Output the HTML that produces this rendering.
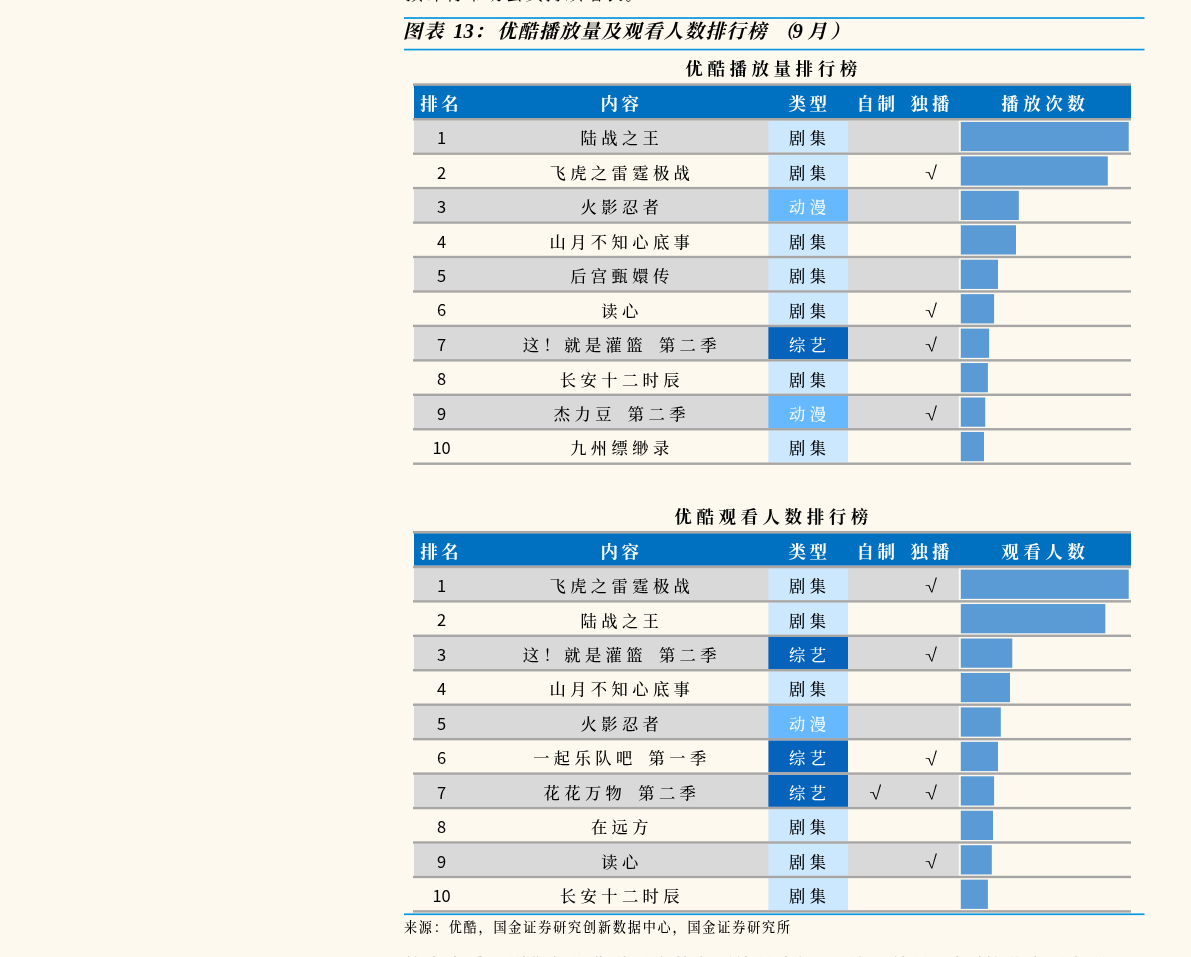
<!DOCTYPE html>
<html lang="zh-CN">
<head>
<meta charset="utf-8">
<title>图表 13：优酷播放量及观看人数排行榜（9 月）</title>
<style>
html,body{margin:0;padding:0;background:#FDF9EE;}
body{width:1191px;height:957px;overflow:hidden;position:relative;}
svg{position:absolute;left:0;top:0;display:block;will-change:transform;}

.k{font-family:"Liberation Serif","Noto Serif CJK SC",serif;}
.s{font-family:"Noto Sans CJK SC","Liberation Sans",sans-serif;}
.c{font-family:"Noto Serif CJK SC","DejaVu Sans",serif;}
</style>
</head>
<body>
<svg width="1191" height="957" viewBox="0 0 1191 957">
<rect x="0" y="0" width="1191" height="957" fill="#FDF9EE"/>
<text class="k" x="405.00" y="0.40" font-size="18" text-anchor="start" letter-spacing="2.0">预计将带动会员持续增长。</text>
<rect x="404.00" y="17.15" width="740.50" height="1.75" fill="#0A97E1"/>
<rect x="404.00" y="48.75" width="740.50" height="1.65" fill="#0A97E1"/>
<text class="k" y="38" font-size="19.4" font-weight="bold" font-style="italic" letter-spacing="1.45"><tspan x="402.8">图</tspan><tspan x="423.7">表</tspan> <tspan x="453.2" font-size="20.7" letter-spacing="0">13</tspan><tspan x="474">：</tspan><tspan x="497">优酷播放量及观看人数排行榜</tspan><tspan x="774.5">（</tspan><tspan x="792.6" font-size="20.7" letter-spacing="0">9</tspan> <tspan x="807.3">月</tspan><tspan x="830.3">）</tspan></text>
<text class="k" x="773.57" y="75.20" font-size="17.5" text-anchor="middle" font-weight="bold" letter-spacing="4.55">优酷播放量排行榜</text>
<rect x="413.00" y="83.30" width="718.00" height="2.70" fill="#ADA7A4"/>
<rect x="414.00" y="85.80" width="717.00" height="32.20" fill="#0070C0"/>
<text class="k" x="441.25" y="109.80" font-size="17.5" text-anchor="middle" font-weight="bold" letter-spacing="3.5" fill="#fff">排名</text>
<text class="k" x="621.55" y="109.80" font-size="17.5" text-anchor="middle" font-weight="bold" letter-spacing="3.5" fill="#fff">内容</text>
<text class="k" x="809.55" y="109.80" font-size="17.5" text-anchor="middle" font-weight="bold" letter-spacing="3.5" fill="#fff">类型</text>
<text class="k" x="877.45" y="109.80" font-size="17.5" text-anchor="middle" font-weight="bold" letter-spacing="3.5" fill="#fff">自制</text>
<text class="k" x="932.10" y="109.80" font-size="17.5" text-anchor="middle" font-weight="bold" letter-spacing="4.0" fill="#fff">独播</text>
<text class="k" x="1045.25" y="109.80" font-size="17.5" text-anchor="middle" font-weight="bold" letter-spacing="4.5" fill="#fff">播放次数</text>
<rect x="414.00" y="120.40" width="544.80" height="32.05" fill="#D9D9D9"/>
<rect x="768.40" y="120.40" width="79.60" height="32.05" fill="#CCE8FF"/>
<rect x="960.80" y="121.90" width="167.90" height="29.25" fill="#5B9BD5"/>
<rect x="768.40" y="154.85" width="79.60" height="32.05" fill="#CCE8FF"/>
<rect x="960.80" y="156.35" width="147.00" height="29.25" fill="#5B9BD5"/>
<rect x="414.00" y="189.30" width="544.80" height="32.05" fill="#D9D9D9"/>
<rect x="768.40" y="189.30" width="79.60" height="32.05" fill="#66B8FF"/>
<rect x="960.80" y="190.80" width="58.00" height="29.25" fill="#5B9BD5"/>
<rect x="768.40" y="223.75" width="79.60" height="32.05" fill="#CCE8FF"/>
<rect x="960.80" y="225.25" width="55.20" height="29.25" fill="#5B9BD5"/>
<rect x="414.00" y="258.20" width="544.80" height="32.05" fill="#D9D9D9"/>
<rect x="768.40" y="258.20" width="79.60" height="32.05" fill="#CCE8FF"/>
<rect x="960.80" y="259.70" width="37.20" height="29.25" fill="#5B9BD5"/>
<rect x="768.40" y="292.65" width="79.60" height="32.05" fill="#CCE8FF"/>
<rect x="960.80" y="294.15" width="33.30" height="29.25" fill="#5B9BD5"/>
<rect x="414.00" y="327.10" width="544.80" height="32.05" fill="#D9D9D9"/>
<rect x="768.40" y="327.10" width="79.60" height="32.05" fill="#0563BB"/>
<rect x="960.80" y="328.60" width="28.30" height="29.25" fill="#5B9BD5"/>
<rect x="768.40" y="361.55" width="79.60" height="32.05" fill="#CCE8FF"/>
<rect x="960.80" y="363.05" width="27.10" height="29.25" fill="#5B9BD5"/>
<rect x="414.00" y="396.00" width="544.80" height="32.05" fill="#D9D9D9"/>
<rect x="768.40" y="396.00" width="79.60" height="32.05" fill="#66B8FF"/>
<rect x="960.80" y="397.50" width="24.40" height="29.25" fill="#5B9BD5"/>
<rect x="768.40" y="430.45" width="79.60" height="32.05" fill="#CCE8FF"/>
<rect x="960.80" y="431.95" width="23.20" height="29.25" fill="#5B9BD5"/>
<rect x="413.00" y="118.00" width="718.00" height="2.55" fill="#ADA7A4"/>
<rect x="413.00" y="152.45" width="718.00" height="2.40" fill="#A6A6A6"/>
<rect x="413.00" y="186.90" width="718.00" height="2.40" fill="#A6A6A6"/>
<rect x="413.00" y="221.35" width="718.00" height="2.40" fill="#A6A6A6"/>
<rect x="413.00" y="255.80" width="718.00" height="2.40" fill="#A6A6A6"/>
<rect x="413.00" y="290.25" width="718.00" height="2.40" fill="#A6A6A6"/>
<rect x="413.00" y="324.70" width="718.00" height="2.40" fill="#A6A6A6"/>
<rect x="413.00" y="359.15" width="718.00" height="2.40" fill="#A6A6A6"/>
<rect x="413.00" y="393.60" width="718.00" height="2.40" fill="#A6A6A6"/>
<rect x="413.00" y="428.05" width="718.00" height="2.40" fill="#A6A6A6"/>
<rect x="413.00" y="462.50" width="718.00" height="2.40" fill="#A6A6A6"/>
<text class="s" x="441.60" y="144.20" font-size="16.5" text-anchor="middle">1</text>
<text class="k" x="621.90" y="144.40" font-size="16.3" text-anchor="middle" font-weight="500" letter-spacing="4.4" word-spacing="3.5">陆战之王</text>
<text class="k" x="809.70" y="144.40" font-size="16.3" text-anchor="middle" font-weight="500" letter-spacing="4.4">剧集</text>
<text class="s" x="441.60" y="178.65" font-size="16.5" text-anchor="middle">2</text>
<text class="k" x="621.90" y="178.85" font-size="16.3" text-anchor="middle" font-weight="500" letter-spacing="4.4" word-spacing="3.5">飞虎之雷霆极战</text>
<text class="k" x="809.70" y="178.85" font-size="16.3" text-anchor="middle" font-weight="500" letter-spacing="4.4">剧集</text>
<text class="c" transform="translate(931.40,177.05) scale(1.35,1)" font-size="14.2" font-weight="600" text-anchor="middle">√</text>
<text class="s" x="441.60" y="213.10" font-size="16.5" text-anchor="middle">3</text>
<text class="k" x="621.90" y="213.30" font-size="16.3" text-anchor="middle" font-weight="500" letter-spacing="4.4" word-spacing="3.5">火影忍者</text>
<text class="k" x="809.70" y="213.30" font-size="16.3" text-anchor="middle" font-weight="500" letter-spacing="4.4" fill="#fff">动漫</text>
<text class="s" x="441.60" y="247.55" font-size="16.5" text-anchor="middle">4</text>
<text class="k" x="621.90" y="247.75" font-size="16.3" text-anchor="middle" font-weight="500" letter-spacing="4.4" word-spacing="3.5">山月不知心底事</text>
<text class="k" x="809.70" y="247.75" font-size="16.3" text-anchor="middle" font-weight="500" letter-spacing="4.4">剧集</text>
<text class="s" x="441.60" y="282.00" font-size="16.5" text-anchor="middle">5</text>
<text class="k" x="621.90" y="282.20" font-size="16.3" text-anchor="middle" font-weight="500" letter-spacing="4.4" word-spacing="3.5">后宫甄嬛传</text>
<text class="k" x="809.70" y="282.20" font-size="16.3" text-anchor="middle" font-weight="500" letter-spacing="4.4">剧集</text>
<text class="s" x="441.60" y="316.45" font-size="16.5" text-anchor="middle">6</text>
<text class="k" x="621.90" y="316.65" font-size="16.3" text-anchor="middle" font-weight="500" letter-spacing="4.4" word-spacing="3.5">读心</text>
<text class="k" x="809.70" y="316.65" font-size="16.3" text-anchor="middle" font-weight="500" letter-spacing="4.4">剧集</text>
<text class="c" transform="translate(931.40,314.85) scale(1.35,1)" font-size="14.2" font-weight="600" text-anchor="middle">√</text>
<text class="s" x="441.60" y="350.90" font-size="16.5" text-anchor="middle">7</text>
<text class="k" x="621.90" y="351.10" font-size="16.3" text-anchor="middle" font-weight="500" letter-spacing="4.4" word-spacing="3.5">这！就是灌篮 第二季</text>
<text class="k" x="809.70" y="351.10" font-size="16.3" text-anchor="middle" font-weight="500" letter-spacing="4.4" fill="#fff">综艺</text>
<text class="c" transform="translate(931.40,349.30) scale(1.35,1)" font-size="14.2" font-weight="600" text-anchor="middle">√</text>
<text class="s" x="441.60" y="385.35" font-size="16.5" text-anchor="middle">8</text>
<text class="k" x="621.90" y="385.55" font-size="16.3" text-anchor="middle" font-weight="500" letter-spacing="4.4" word-spacing="3.5">长安十二时辰</text>
<text class="k" x="809.70" y="385.55" font-size="16.3" text-anchor="middle" font-weight="500" letter-spacing="4.4">剧集</text>
<text class="s" x="441.60" y="419.80" font-size="16.5" text-anchor="middle">9</text>
<text class="k" x="621.90" y="420.00" font-size="16.3" text-anchor="middle" font-weight="500" letter-spacing="4.4" word-spacing="3.5">杰力豆 第二季</text>
<text class="k" x="809.70" y="420.00" font-size="16.3" text-anchor="middle" font-weight="500" letter-spacing="4.4" fill="#fff">动漫</text>
<text class="c" transform="translate(931.40,418.20) scale(1.35,1)" font-size="14.2" font-weight="600" text-anchor="middle">√</text>
<text class="s" x="441.60" y="454.25" font-size="16.5" text-anchor="middle">10</text>
<text class="k" x="621.90" y="454.45" font-size="16.3" text-anchor="middle" font-weight="500" letter-spacing="4.4" word-spacing="3.5">九州缥缈录</text>
<text class="k" x="809.70" y="454.45" font-size="16.3" text-anchor="middle" font-weight="500" letter-spacing="4.4">剧集</text>
<text class="k" x="773.57" y="522.90" font-size="17.5" text-anchor="middle" font-weight="bold" letter-spacing="4.55">优酷观看人数排行榜</text>
<rect x="413.00" y="531.00" width="718.00" height="2.70" fill="#ADA7A4"/>
<rect x="414.00" y="533.50" width="717.00" height="32.20" fill="#0070C0"/>
<text class="k" x="441.25" y="557.50" font-size="17.5" text-anchor="middle" font-weight="bold" letter-spacing="3.5" fill="#fff">排名</text>
<text class="k" x="621.55" y="557.50" font-size="17.5" text-anchor="middle" font-weight="bold" letter-spacing="3.5" fill="#fff">内容</text>
<text class="k" x="809.55" y="557.50" font-size="17.5" text-anchor="middle" font-weight="bold" letter-spacing="3.5" fill="#fff">类型</text>
<text class="k" x="877.45" y="557.50" font-size="17.5" text-anchor="middle" font-weight="bold" letter-spacing="3.5" fill="#fff">自制</text>
<text class="k" x="932.10" y="557.50" font-size="17.5" text-anchor="middle" font-weight="bold" letter-spacing="4.0" fill="#fff">独播</text>
<text class="k" x="1045.25" y="557.50" font-size="17.5" text-anchor="middle" font-weight="bold" letter-spacing="4.5" fill="#fff">观看人数</text>
<rect x="414.00" y="568.10" width="544.80" height="32.05" fill="#D9D9D9"/>
<rect x="768.40" y="568.10" width="79.60" height="32.05" fill="#CCE8FF"/>
<rect x="960.80" y="569.60" width="167.90" height="29.25" fill="#5B9BD5"/>
<rect x="768.40" y="602.55" width="79.60" height="32.05" fill="#CCE8FF"/>
<rect x="960.80" y="604.05" width="144.50" height="29.25" fill="#5B9BD5"/>
<rect x="414.00" y="637.00" width="544.80" height="32.05" fill="#D9D9D9"/>
<rect x="768.40" y="637.00" width="79.60" height="32.05" fill="#0563BB"/>
<rect x="960.80" y="638.50" width="51.50" height="29.25" fill="#5B9BD5"/>
<rect x="768.40" y="671.45" width="79.60" height="32.05" fill="#CCE8FF"/>
<rect x="960.80" y="672.95" width="49.20" height="29.25" fill="#5B9BD5"/>
<rect x="414.00" y="705.90" width="544.80" height="32.05" fill="#D9D9D9"/>
<rect x="768.40" y="705.90" width="79.60" height="32.05" fill="#66B8FF"/>
<rect x="960.80" y="707.40" width="40.00" height="29.25" fill="#5B9BD5"/>
<rect x="768.40" y="740.35" width="79.60" height="32.05" fill="#0563BB"/>
<rect x="960.80" y="741.85" width="37.20" height="29.25" fill="#5B9BD5"/>
<rect x="414.00" y="774.80" width="544.80" height="32.05" fill="#D9D9D9"/>
<rect x="768.40" y="774.80" width="79.60" height="32.05" fill="#0563BB"/>
<rect x="960.80" y="776.30" width="33.30" height="29.25" fill="#5B9BD5"/>
<rect x="768.40" y="809.25" width="79.60" height="32.05" fill="#CCE8FF"/>
<rect x="960.80" y="810.75" width="32.20" height="29.25" fill="#5B9BD5"/>
<rect x="414.00" y="843.70" width="544.80" height="32.05" fill="#D9D9D9"/>
<rect x="768.40" y="843.70" width="79.60" height="32.05" fill="#CCE8FF"/>
<rect x="960.80" y="845.20" width="31.00" height="29.25" fill="#5B9BD5"/>
<rect x="768.40" y="878.15" width="79.60" height="32.05" fill="#CCE8FF"/>
<rect x="960.80" y="879.65" width="27.10" height="29.25" fill="#5B9BD5"/>
<rect x="413.00" y="565.70" width="718.00" height="2.55" fill="#ADA7A4"/>
<rect x="413.00" y="600.15" width="718.00" height="2.40" fill="#A6A6A6"/>
<rect x="413.00" y="634.60" width="718.00" height="2.40" fill="#A6A6A6"/>
<rect x="413.00" y="669.05" width="718.00" height="2.40" fill="#A6A6A6"/>
<rect x="413.00" y="703.50" width="718.00" height="2.40" fill="#A6A6A6"/>
<rect x="413.00" y="737.95" width="718.00" height="2.40" fill="#A6A6A6"/>
<rect x="413.00" y="772.40" width="718.00" height="2.40" fill="#A6A6A6"/>
<rect x="413.00" y="806.85" width="718.00" height="2.40" fill="#A6A6A6"/>
<rect x="413.00" y="841.30" width="718.00" height="2.40" fill="#A6A6A6"/>
<rect x="413.00" y="875.75" width="718.00" height="2.40" fill="#A6A6A6"/>
<rect x="413.00" y="910.20" width="718.00" height="2.40" fill="#A6A6A6"/>
<text class="s" x="441.60" y="591.90" font-size="16.5" text-anchor="middle">1</text>
<text class="k" x="621.90" y="592.10" font-size="16.3" text-anchor="middle" font-weight="500" letter-spacing="4.4" word-spacing="3.5">飞虎之雷霆极战</text>
<text class="k" x="809.70" y="592.10" font-size="16.3" text-anchor="middle" font-weight="500" letter-spacing="4.4">剧集</text>
<text class="c" transform="translate(931.40,590.30) scale(1.35,1)" font-size="14.2" font-weight="600" text-anchor="middle">√</text>
<text class="s" x="441.60" y="626.35" font-size="16.5" text-anchor="middle">2</text>
<text class="k" x="621.90" y="626.55" font-size="16.3" text-anchor="middle" font-weight="500" letter-spacing="4.4" word-spacing="3.5">陆战之王</text>
<text class="k" x="809.70" y="626.55" font-size="16.3" text-anchor="middle" font-weight="500" letter-spacing="4.4">剧集</text>
<text class="s" x="441.60" y="660.80" font-size="16.5" text-anchor="middle">3</text>
<text class="k" x="621.90" y="661.00" font-size="16.3" text-anchor="middle" font-weight="500" letter-spacing="4.4" word-spacing="3.5">这！就是灌篮 第二季</text>
<text class="k" x="809.70" y="661.00" font-size="16.3" text-anchor="middle" font-weight="500" letter-spacing="4.4" fill="#fff">综艺</text>
<text class="c" transform="translate(931.40,659.20) scale(1.35,1)" font-size="14.2" font-weight="600" text-anchor="middle">√</text>
<text class="s" x="441.60" y="695.25" font-size="16.5" text-anchor="middle">4</text>
<text class="k" x="621.90" y="695.45" font-size="16.3" text-anchor="middle" font-weight="500" letter-spacing="4.4" word-spacing="3.5">山月不知心底事</text>
<text class="k" x="809.70" y="695.45" font-size="16.3" text-anchor="middle" font-weight="500" letter-spacing="4.4">剧集</text>
<text class="s" x="441.60" y="729.70" font-size="16.5" text-anchor="middle">5</text>
<text class="k" x="621.90" y="729.90" font-size="16.3" text-anchor="middle" font-weight="500" letter-spacing="4.4" word-spacing="3.5">火影忍者</text>
<text class="k" x="809.70" y="729.90" font-size="16.3" text-anchor="middle" font-weight="500" letter-spacing="4.4" fill="#fff">动漫</text>
<text class="s" x="441.60" y="764.15" font-size="16.5" text-anchor="middle">6</text>
<text class="k" x="621.90" y="764.35" font-size="16.3" text-anchor="middle" font-weight="500" letter-spacing="4.4" word-spacing="3.5">一起乐队吧 第一季</text>
<text class="k" x="809.70" y="764.35" font-size="16.3" text-anchor="middle" font-weight="500" letter-spacing="4.4" fill="#fff">综艺</text>
<text class="c" transform="translate(931.40,762.55) scale(1.35,1)" font-size="14.2" font-weight="600" text-anchor="middle">√</text>
<text class="s" x="441.60" y="798.60" font-size="16.5" text-anchor="middle">7</text>
<text class="k" x="621.90" y="798.80" font-size="16.3" text-anchor="middle" font-weight="500" letter-spacing="4.4" word-spacing="3.5">花花万物 第二季</text>
<text class="k" x="809.70" y="798.80" font-size="16.3" text-anchor="middle" font-weight="500" letter-spacing="4.4" fill="#fff">综艺</text>
<text class="c" transform="translate(875.50,797.00) scale(1.35,1)" font-size="14.2" font-weight="600" text-anchor="middle">√</text>
<text class="c" transform="translate(931.40,797.00) scale(1.35,1)" font-size="14.2" font-weight="600" text-anchor="middle">√</text>
<text class="s" x="441.60" y="833.05" font-size="16.5" text-anchor="middle">8</text>
<text class="k" x="621.90" y="833.25" font-size="16.3" text-anchor="middle" font-weight="500" letter-spacing="4.4" word-spacing="3.5">在远方</text>
<text class="k" x="809.70" y="833.25" font-size="16.3" text-anchor="middle" font-weight="500" letter-spacing="4.4">剧集</text>
<text class="s" x="441.60" y="867.50" font-size="16.5" text-anchor="middle">9</text>
<text class="k" x="621.90" y="867.70" font-size="16.3" text-anchor="middle" font-weight="500" letter-spacing="4.4" word-spacing="3.5">读心</text>
<text class="k" x="809.70" y="867.70" font-size="16.3" text-anchor="middle" font-weight="500" letter-spacing="4.4">剧集</text>
<text class="c" transform="translate(931.40,865.90) scale(1.35,1)" font-size="14.2" font-weight="600" text-anchor="middle">√</text>
<text class="s" x="441.60" y="901.95" font-size="16.5" text-anchor="middle">10</text>
<text class="k" x="621.90" y="902.15" font-size="16.3" text-anchor="middle" font-weight="500" letter-spacing="4.4" word-spacing="3.5">长安十二时辰</text>
<text class="k" x="809.70" y="902.15" font-size="16.3" text-anchor="middle" font-weight="500" letter-spacing="4.4">剧集</text>
<rect x="404.00" y="913.40" width="740.50" height="1.70" fill="#0A97E1"/>
<text class="k" x="403.90" y="932.30" font-size="13.1" text-anchor="start" font-weight="500" letter-spacing="1.83">来源：优酷，国金证券研究创新数据中心，国金证券研究所</text>
<text class="k" x="404.50" y="972.40" font-size="18" text-anchor="start" letter-spacing="2.7" fill="#b0b0b0">综合来看，剧集仍是优酷平台的主要流量来源，“这！就是”系列综艺表现亮眼。</text>
</svg>
</body>
</html>
